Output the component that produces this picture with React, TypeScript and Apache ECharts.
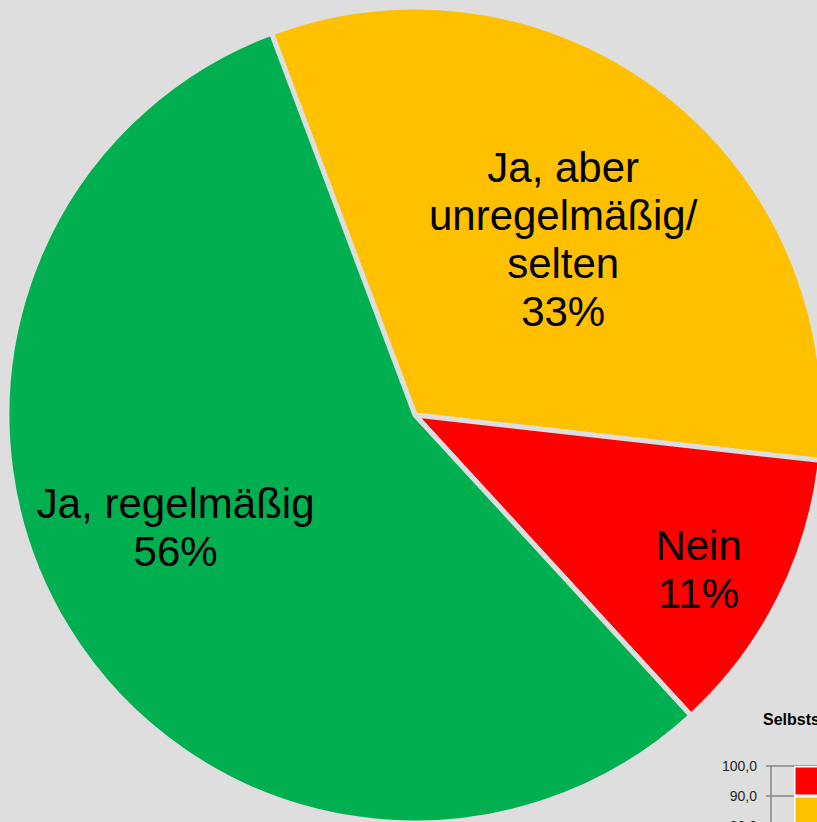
import React, { useEffect, useRef } from "react";
import * as echarts from "echarts";

// Pie data (clockwise from the yellow/green boundary)
const pieNames = ["Ja, aber\nunregelmäßig/\nselten", "Nein", "Ja, regelmäßig"];
const pieValues = [32.5, 11.4, 56.1];
const pieColors = ["#ffc000", "#ff0000", "#00b050"];

// Small overlapping stacked bar chart (only top visible)
const barCategories = [""];
const barGreen = [56];
const barYellow = [34];
const barRed = [10];
const smallTitle = "Selbstständigkeit";

// label shifts relative to ECharts' inside position
const labelShift: [number, number][] = [
  [21, -12],
  [99, 61],
  [-63, 4],
];

const BG = "#dedede";

export default function App() {
  const ref = useRef<HTMLDivElement>(null);
  useEffect(() => {
    if (!ref.current) return;
    const chart = echarts.init(ref.current, null, { renderer: "svg" });
    const option: any = {
      animation: false,
      backgroundColor: BG,
      title: {
        text: smallTitle,
        left: 758,
        top: 706,
        textStyle: {
          fontFamily: "Liberation Sans",
          fontWeight: "bold",
          fontSize: 16,
          color: "#000",
        },
      },
      grid: {
        left: 771,
        top: 766,
        width: 200,
        height: 300,
        containLabel: false,
        outerBoundsMode: "none",
      },
      xAxis: {
        type: "category",
        data: barCategories,
        axisLine: { show: true, lineStyle: { color: "#868686" } },
        axisTick: { show: false },
        axisLabel: { show: false },
      },
      yAxis: {
        type: "value",
        min: 0,
        max: 100,
        interval: 10,
        axisLine: { show: true, lineStyle: { color: "#868686", width: 1.5 } },
        axisTick: { show: true, length: 5, lineStyle: { color: "#868686", width: 1.5 } },
        splitLine: { show: true, lineStyle: { color: "#868686", width: 1.5 } },
        axisLabel: {
          margin: 14,
          fontFamily: "Liberation Sans",
          fontSize: 14,
          color: "#262626",
          formatter: (v: number) => v.toFixed(1).replace(".", ","),
        },
      },
      series: [
        {
          type: "pie",
          center: [415, 415],
          radius: 408,
          startAngle: 110.6,
          clockwise: true,
          avoidLabelOverlap: false,
          itemStyle: { borderColor: BG, borderWidth: 5 },
          label: {
            show: true,
            position: "inside",
            fontFamily: "Liberation Sans",
            fontSize: 42,
            lineHeight: 48,
            color: "#000",
            align: "center",
            formatter: (p: any) => `${p.name}\n${Math.round(p.percent)}%`,
          },
          labelLine: { show: false },
          labelLayout: (p: any) => ({ dx: labelShift[p.dataIndex][0], dy: labelShift[p.dataIndex][1] }),
          emphasis: { disabled: true },
          data: pieValues.map((v, i) => ({
            value: v,
            name: pieNames[i],
            itemStyle: { color: pieColors[i] },
          })),
          z: 1,
        },
        {
          type: "bar",
          stack: "s",
          barWidth: 154,
          data: barGreen,
          itemStyle: { color: "#00b050", borderColor: "#fff", borderWidth: 1.5 },
          z: 3,
        },
        {
          type: "bar",
          stack: "s",
          barWidth: 154,
          data: barYellow,
          itemStyle: { color: "#ffc000", borderColor: "#fff", borderWidth: 1.5 },
          z: 3,
        },
        {
          type: "bar",
          stack: "s",
          barWidth: 154,
          data: barRed,
          itemStyle: { color: "#ff0000", borderColor: "#fff", borderWidth: 1.5 },
          z: 3,
        },
      ],
    };
    chart.setOption(option);
    return () => chart.dispose();
  }, []);
  return (
    <div
      ref={ref}
      style={{ position: "fixed", left: 0, top: 0, width: 817, height: 822 }}
    />
  );
}
